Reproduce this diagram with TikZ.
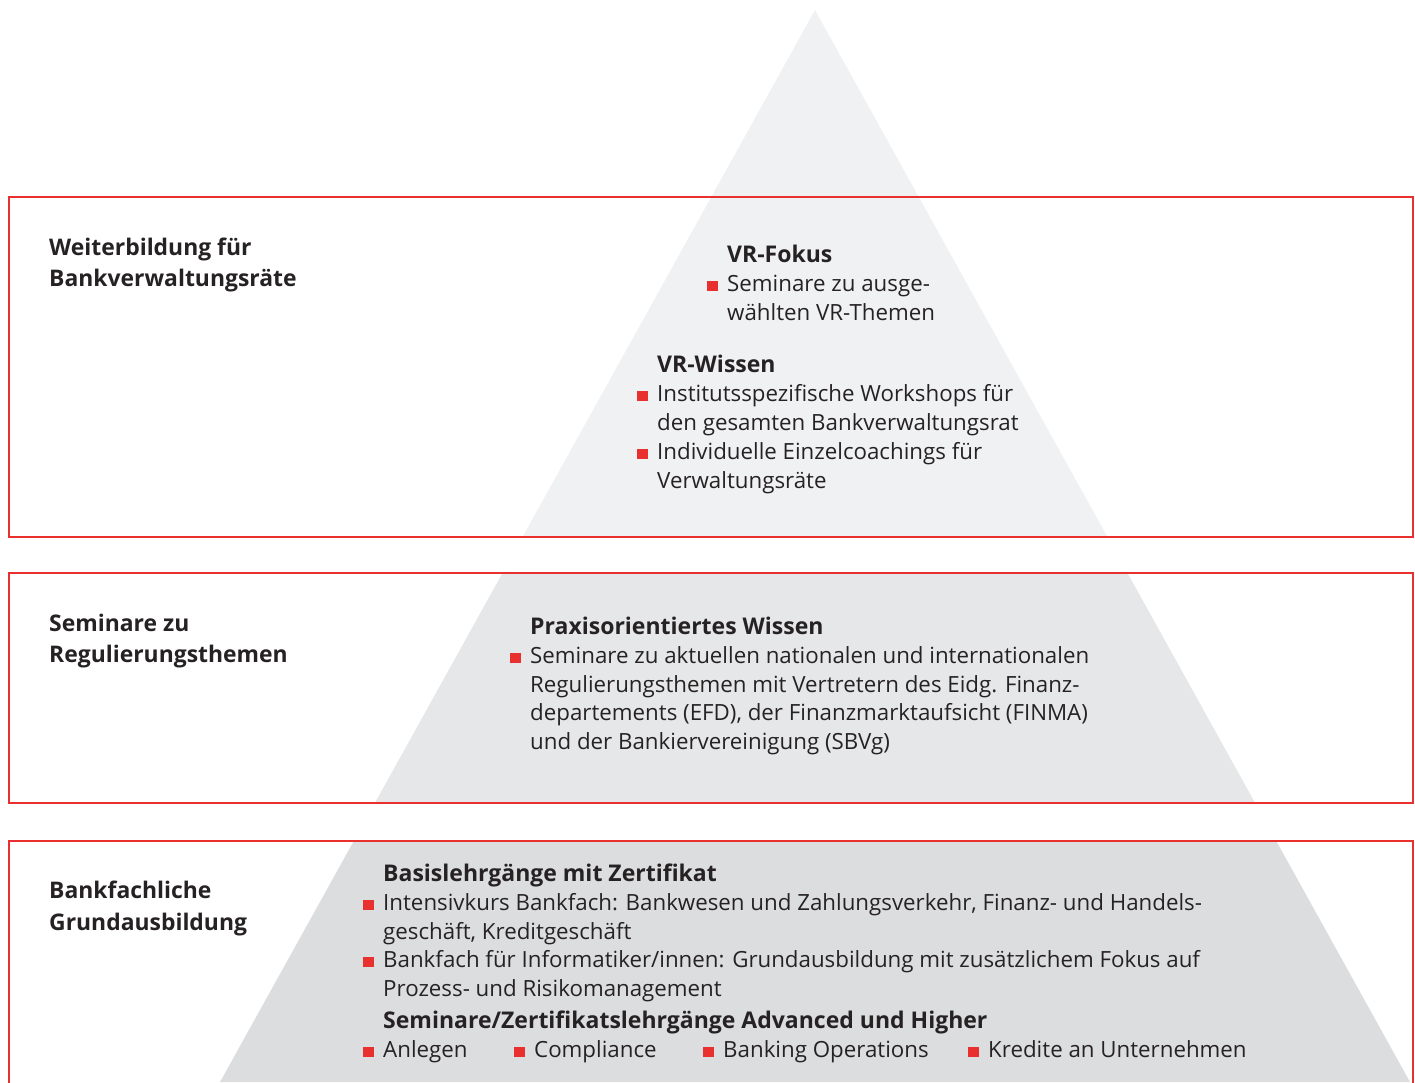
\documentclass[tikz,border=0pt]{standalone}
\usepackage{fontspec}
\setmainfont{Open Sans}
\definecolor{ubsred}{HTML}{E8312F}
\definecolor{txt}{HTML}{262223}
\definecolor{gA}{HTML}{F0F1F2}
\definecolor{gB}{HTML}{E6E7E8}
\definecolor{gC}{HTML}{DCDDDF}
\newcommand{\rsq}{\llap{\textcolor{ubsred}{\rule{10.5pt}{10.5pt}}\hspace{9.5pt}}}
\tikzset{
  frame/.style={draw=ubsred, line width=2pt},
  ttl/.style={anchor=base west, inner sep=0pt, text=txt, font=\fontsize{22.9}{28}\selectfont\bfseries},
  hd/.style={anchor=base west, inner sep=0pt, text=txt, font=\fontsize{23}{28}\selectfont\bfseries},
  ln/.style={anchor=base west, inner sep=0pt, text=txt, font=\fontsize{22.3}{28}\selectfont},
}
\begin{document}
\begin{tikzpicture}[x=1pt,y=-1pt]
\useasboundingbox (0,0) rectangle (1415,1082);
% pyramid bands
\begin{scope}
  \clip (0,0) rectangle (1415,537);
  \fill[gA] (815,10) -- (220,1082) -- (1410,1082) -- cycle;
\end{scope}
\begin{scope}
  \clip (0,573) rectangle (1415,803);
  \fill[gB] (815,10) -- (220,1082) -- (1410,1082) -- cycle;
\end{scope}
\begin{scope}
  \clip (0,841) rectangle (1415,1090);
  \fill[gC] (815,10) -- (220,1082) -- (1410,1082) -- cycle;
\end{scope}
% frames
\draw[frame] (9,197) rectangle (1413,537);
\draw[frame] (9,573) rectangle (1413,803);
\draw[frame] (9,1090) -- (9,841) -- (1413,841) -- (1413,1090);
% left titles
\node[ttl] (t1a) at (49,255) {Weiterbildung für};
\node[ttl] (t1b) at (49,286) {Bankverwaltungsräte};
\node[ttl] (t2a) at (49,631) {Seminare zu};
\node[ttl] (t2b) at (49,662) {Regulierungsthemen};
\node[ttl] (t3a) at (49,898) {Bankfachliche};
\node[ttl] (t3b) at (49,930) {Grundausbildung};
% top band
\node[hd] (f0) at (727,262) {VR-Fokus};
\node[ln] (f1) at (727,291) {\rsq Seminare zu ausge-};
\node[ln] (f2) at (727,320) {wählten VR-Themen};
\node[hd] (w0) at (657,372) {VR-Wissen};
\node[ln] (w1) at (657,401) {\rsq Institutsspezifische Workshops für};
\node[ln] (w2) at (657,430) {den gesamten Bankverwaltungsrat};
\node[ln] (w3) at (657,459) {\rsq Individuelle Einzelcoachings für};
\node[ln] (w4) at (657,488) {Verwaltungsräte};
% middle band
\node[hd] (p0) at (530,634) {Praxisorientiertes Wissen};
\node[ln] (p1) at (530,663) {\rsq Seminare zu aktuellen nationalen und internationalen};
\node[ln] (p2) at (530,692) {Regulierungsthemen mit Vertretern des Eidg. Finanz-};
\node[ln] (p3) at (530,720) {departements (EFD), der Finanzmarktaufsicht (FINMA)};
\node[ln] (p4) at (530,749) {und der Bankiervereinigung (SBVg)};
% bottom band
\node[hd] (b0) at (383,881) {Basislehrgänge mit Zertifikat};
\node[ln] (b1) at (383,910) {\rsq Intensivkurs Bankfach: Bankwesen und Zahlungsverkehr, Finanz- und Handels-};
\node[ln] (b2) at (383,939) {geschäft, Kreditgeschäft};
\node[ln] (b3) at (383,967) {\rsq Bankfach für Informatiker/innen: Grundausbildung mit zusätzlichem Fokus auf};
\node[ln] (b4) at (383,996) {Prozess- und Risikomanagement};
\node[hd] (s0) at (383,1028) {Seminare/Zertifikatslehrgänge Advanced und Higher};
\node[ln] (s1) at (383,1057) {\rsq Anlegen};
\node[ln] (s2) at (534,1057) {\rsq Compliance};
\node[ln] (s3) at (723,1057) {\rsq Banking Operations};
\node[ln] (s4) at (988,1057) {\rsq Kredite an Unternehmen};
\end{tikzpicture}
\end{document}
